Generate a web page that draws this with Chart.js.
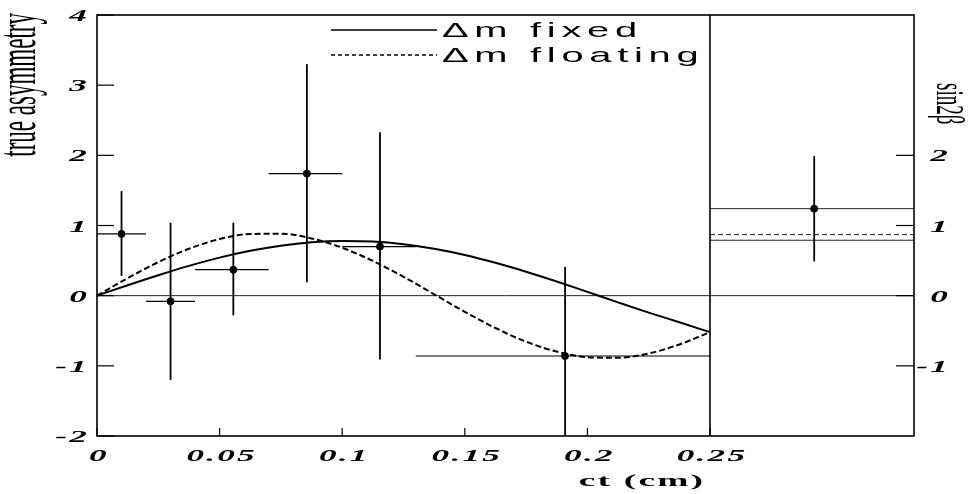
<!DOCTYPE html>
<html lang="en">
<head>
    <meta charset="UTF-8">
    <title>true asymmetry vs ct</title>
    <script src="https://cdn.jsdelivr.net/npm/chart.js@4.4.1/dist/chart.umd.min.js"></script>
    <style>
        html, body {
            margin: 0;
            padding: 0;
            background-color: #ffffff;
        }
        .chart-container {
            position: relative;
            width: 972px;
            height: 494px;
        }
    </style>
</head>
<body>

<div class="chart-container">
    <canvas id="asymChart"></canvas>
</div>

<script>
    // fit curves
    const ctGrid = [0, 0.0125, 0.025, 0.0375, 0.05, 0.0625, 0.075, 0.0875, 0.1, 0.1125, 0.125,
                    0.1375, 0.15, 0.1625, 0.175, 0.1875, 0.2, 0.2125, 0.225, 0.2375, 0.25];
    const fitFixed = [0, 0.149, 0.292, 0.425, 0.542, 0.639, 0.712, 0.760, 0.779, 0.771, 0.733,
                      0.668, 0.580, 0.469, 0.342, 0.202, 0.054, -0.095, -0.241, -0.379, -0.52];
    const fitFloating = [0, 0.249, 0.478, 0.669, 0.807, 0.879, 0.883, 0.815, 0.683, 0.495, 0.269,
                         0.020, -0.230, -0.461, -0.656, -0.797, -0.876, -0.886, -0.824, -0.695, -0.52];

    // measured asymmetry per ct bin
    const ctPoints = [0.01, 0.03, 0.0556, 0.0856, 0.1154, 0.1909];
    const ctBinLow = [0, 0.02, 0.04, 0.07, 0.10, 0.13];
    const ctBinHigh = [0.02, 0.04, 0.07, 0.10, 0.13, 0.25];
    const asymmetry = [0.88, -0.08, 0.37, 1.74, 0.70, -0.86];
    const asymUpper = [1.49, 1.04, 1.04, 3.30, 2.33, 0.41];
    const asymLower = [0.28, -1.20, -0.28, 0.19, -0.91, -2.0];

    // sin2beta panel on the right
    const sin2bValue = 1.24;
    const sin2bUpper = 1.99;
    const sin2bLower = 0.49;
    const sin2bFixed = 0.79;
    const sin2bFloating = 0.87;

    // axes
    const ctTicks = [0, 0.05, 0.1, 0.15, 0.2, 0.25];
    const ctTickLabels = ['0', '0.05', '0.1', '0.15', '0.2', '0.25'];
    const asymTicks = [-2, -1, 0, 1, 2, 3, 4];
    const sin2bTicks = [-1, 0, 1, 2];
    const panelEdge = 0.25;
    const panelCenter = 0.2925;
    const ctMax = 0.3332;

    const legendLabels = ['\u0394m fixed', '\u0394m floating'];

    const toXY = (xs, ys) => xs.map((v, i) => ({x: v, y: ys[i]}));

    function seg(ctx, x1, y1, x2, y2) {
        ctx.beginPath();
        ctx.moveTo(x1, y1);
        ctx.lineTo(x2, y2);
        ctx.stroke();
    }

    // ROOT-style text is wide, so stretch it horizontally
    function wideText(ctx, text, x, y, opts) {
        ctx.save();
        ctx.translate(x, y);
        ctx.scale(opts.sx || 1, 1);
        if (opts.rot) ctx.rotate(opts.rot);
        ctx.font = opts.font;
        ctx.letterSpacing = (opts.spacing || 0) + 'px';
        ctx.textAlign = opts.align || 'left';
        ctx.textBaseline = opts.baseline || 'middle';
        ctx.fillStyle = '#000';
        ctx.fillText(text, 0, 0);
        ctx.restore();
    }

    const rootStyle = {
        id: 'rootStyle',
        beforeDatasetsDraw(chart) {
            const {ctx, scales} = chart;
            const x = scales.x, y = scales.y, y2 = scales.y2;
            ctx.save();
            ctx.strokeStyle = '#000';
            // error bars of the ct bins
            ctPoints.forEach((c, i) => {
                const px = x.getPixelForValue(c);
                const py = y.getPixelForValue(asymmetry[i]);
                ctx.lineWidth = 1.8;
                seg(ctx, px, y.getPixelForValue(asymUpper[i]), px, y.getPixelForValue(asymLower[i]));
                ctx.lineWidth = 1.2;
                seg(ctx, x.getPixelForValue(ctBinLow[i]), py, x.getPixelForValue(ctBinHigh[i]), py);
            });
            // sin2beta error bar
            const sx = x.getPixelForValue(panelCenter);
            ctx.lineWidth = 1.8;
            seg(ctx, sx, y2.getPixelForValue(sin2bUpper), sx, y2.getPixelForValue(sin2bLower));
            ctx.restore();
        },
        afterDraw(chart) {
            const {ctx, chartArea: a, scales} = chart;
            const x = scales.x, y = scales.y, y2 = scales.y2;
            ctx.save();
            ctx.strokeStyle = '#000';
            ctx.lineWidth = 1.6;
            // frame and panel divider
            ctx.strokeRect(a.left, a.top, a.right - a.left, a.bottom - a.top);
            const edge = x.getPixelForValue(panelEdge);
            seg(ctx, edge, a.top, edge, a.bottom);

            // inward tick marks
            ctx.lineWidth = 1.2;
            asymTicks.forEach(v => {
                const py = y.getPixelForValue(v);
                seg(ctx, a.left, py, a.left + 17, py);
            });
            sin2bTicks.forEach(v => {
                const py = y2.getPixelForValue(v);
                seg(ctx, a.right - 18, py, a.right, py);
            });
            ctTicks.forEach(v => {
                const px = x.getPixelForValue(v);
                seg(ctx, px, a.bottom, px, a.bottom - 8);
            });

            // tick labels
            const tickFont = 'italic bold 16px "Liberation Serif"';
            asymTicks.forEach(v => {
                wideText(ctx, String(v), a.left - 8, y.getPixelForValue(v) + 2,
                    {font: tickFont, sx: 2.2, spacing: 1, align: 'right'});
            });
            sin2bTicks.forEach(v => {
                wideText(ctx, String(v), a.right + 36, y2.getPixelForValue(v) + 2,
                    {font: tickFont, sx: 2.2, spacing: 1, align: 'right'});
            });
            ctTicks.forEach((v, i) => {
                wideText(ctx, ctTickLabels[i], x.getPixelForValue(v) + 2, a.bottom + 21,
                    {font: tickFont, sx: 2.2, spacing: 1, align: 'center'});
            });

            // axis titles
            wideText(ctx, 'ct (cm)', 642, a.bottom + 46,
                {font: 'bold 17px "Liberation Serif"', sx: 2.2, spacing: 1, align: 'center'});
            wideText(ctx, 'true asymmetry', 35, a.top - 2,
                {font: '23px "Liberation Serif"', sx: 2.4, rot: -Math.PI / 2, align: 'right', baseline: 'alphabetic'});
            wideText(ctx, 'sin2\u03b2', a.right + 23, 83,
                {font: '19px "Liberation Serif"', sx: 2.1, rot: Math.PI / 2, align: 'left', baseline: 'alphabetic'});

            // legend
            const rows = [30, 55];
            chart.data.datasets.slice(0, 2).forEach((ds, i) => {
                ctx.lineWidth = 1.3;
                ctx.setLineDash(i === 0 ? [] : [4, 3]);
                seg(ctx, 331, rows[i], 437, rows[i]);
                ctx.setLineDash([]);
                wideText(ctx, legendLabels[i], 442, rows[i] + 1,
                    {font: '21px "Liberation Sans"', sx: 1.9, spacing: 3, align: 'left'});
            });
            ctx.restore();
        }
    };

    const ctx = document.getElementById('asymChart').getContext('2d');
    new Chart(ctx, {
        type: 'scatter',
        data: {
            datasets: [{
                type: 'line',
                label: legendLabels[0],
                data: toXY(ctGrid, fitFixed),
                borderColor: '#000',
                borderWidth: 2,
                pointRadius: 0,
                cubicInterpolationMode: 'monotone'
            }, {
                type: 'line',
                label: legendLabels[1],
                data: toXY(ctGrid, fitFloating),
                borderColor: '#000',
                borderWidth: 2,
                borderDash: [6, 3],
                pointRadius: 0,
                cubicInterpolationMode: 'monotone'
            }, {
                label: 'asymmetry',
                data: toXY(ctPoints, asymmetry),
                backgroundColor: '#000',
                borderColor: '#000',
                pointRadius: 3.5
            }, {
                label: 'sin2b',
                yAxisID: 'y2',
                data: [{x: panelCenter, y: sin2bValue}],
                backgroundColor: '#000',
                borderColor: '#000',
                pointRadius: 3.5
            }, {
                type: 'line',
                label: 'zero',
                data: [{x: 0, y: 0}, {x: ctMax, y: 0}],
                borderColor: '#222',
                borderWidth: 1,
                pointRadius: 0
            }, {
                type: 'line',
                label: 'sin2b value',
                yAxisID: 'y2',
                data: [{x: panelEdge, y: sin2bValue}, {x: ctMax, y: sin2bValue}],
                borderColor: '#222',
                borderWidth: 1,
                pointRadius: 0
            }, {
                type: 'line',
                label: 'sin2b fixed',
                yAxisID: 'y2',
                data: [{x: panelEdge, y: sin2bFixed}, {x: ctMax, y: sin2bFixed}],
                borderColor: '#222',
                borderWidth: 1,
                pointRadius: 0
            }, {
                type: 'line',
                label: 'sin2b floating',
                yAxisID: 'y2',
                data: [{x: panelEdge, y: sin2bFloating}, {x: ctMax, y: sin2bFloating}],
                borderColor: '#222',
                borderWidth: 1,
                borderDash: [5, 3],
                pointRadius: 0
            }]
        },
        options: {
            responsive: true,
            maintainAspectRatio: false,
            animation: false,
            events: [],
            layout: {
                padding: {left: 97, right: 58, top: 15, bottom: 58}
            },
            plugins: {
                legend: {display: false},
                tooltip: {enabled: false}
            },
            scales: {
                x: {
                    type: 'linear',
                    display: false,
                    min: 0,
                    max: ctMax
                },
                y: {
                    display: false,
                    min: -2,
                    max: 4
                },
                y2: {
                    display: false,
                    position: 'right',
                    min: -2,
                    max: 4
                }
            }
        },
        plugins: [rootStyle]
    });
</script>

</body>
</html>
